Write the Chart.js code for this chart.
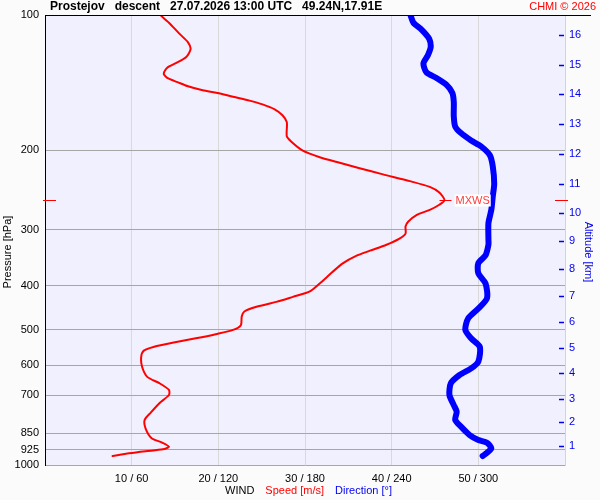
<!DOCTYPE html>
<html>
<head>
<meta charset="utf-8">
<title>Prostejov descent</title>
<script src="https://cdn.jsdelivr.net/npm/chart.js@4.4.1/dist/chart.umd.min.js"></script>
<style>
  body { margin: 0; background: #fbfbfb; }
  canvas { display: block; }
</style>
</head>
<body>
<canvas id="chart" width="600" height="500"></canvas>
<script>
// axis ticks
const pressureTicks = [100, 200, 300, 400, 500, 600, 700, 850, 925, 1000];
const altitudeKm = [1, 2, 3, 4, 5, 6, 7, 8, 9, 10, 11, 12, 13, 14, 15, 16];
const altitudePressure = [906, 803, 712, 626, 550, 480, 421, 367, 318, 275, 237, 204, 175, 150, 129, 111];
const speedTicks = [10, 20, 30, 40, 50];
const speedTickLabels = ["10 / 60", "20 / 120", "30 / 180", "40 / 240", "50 / 300"];

// wind speed profile [hPa] / [m/s]
const speedPressure = [100, 104, 110, 115, 119, 124, 128, 131, 135, 138,
  141, 144, 147, 149, 152, 155, 158, 162, 167, 173,
  186, 191, 200, 207, 213, 219, 226, 234, 241, 248,
  258, 264, 271, 278, 288, 295, 306, 314, 324, 334,
  343, 356, 372, 395, 412, 423, 434, 445, 456, 468,
  489, 501, 512, 523, 535, 546, 557, 575, 605, 637,
  658, 681, 699, 729, 765, 794, 829, 872, 890, 911,
  923, 932, 942, 955];
const speed = [13.3, 14.3, 15.5, 16.5, 16.8, 16.3, 15.1, 14.1, 13.7, 14.1,
  15.3, 16.5, 18.2, 19.9, 21.7, 23.6, 25.1, 26.5, 27.4, 27.9,
  27.9, 28.4, 29.7, 31.7, 34.0, 36.3, 39.0, 42.1, 44.4, 45.5,
  46.1, 45.5, 44.4, 42.9, 41.9, 41.6, 41.6, 40.9, 39.4, 37.5,
  35.9, 34.4, 33.2, 31.7, 30.5, 28.6, 26.7, 24.4, 23.0, 22.7,
  22.6, 21.7, 19.7, 17.4, 14.7, 12.6, 11.4, 11.1, 11.2, 11.8,
  13.2, 14.3, 14.3, 13.2, 12.2, 11.5, 11.6, 12.3, 13.4, 14.3,
  13.6, 11.6, 9.7, 7.8];

// wind direction profile [hPa] / [deg]
const dirPressure = [100, 104, 108, 113, 118, 123, 128, 134, 138, 143,
  149, 156, 168, 177, 183, 190, 196, 205, 217, 237,
  253, 271, 290, 316, 324, 342, 356, 375, 395, 426,
  449, 472, 501, 523, 546, 589, 610, 631, 658, 699,
  736, 761, 794, 822, 858, 880, 892, 918, 939, 955];
const direction = [253, 255, 261, 266, 267, 265, 262, 264, 271, 278,
  282, 283, 283, 284, 288, 295, 302, 308, 310, 311,
  310, 309, 307, 307, 307, 305, 300, 300, 305, 306,
  300, 293, 291, 295, 301, 300, 295, 287, 281, 280,
  283, 285, 284, 288, 294, 300, 306, 309, 306, 303];

const FONT = "'Liberation Sans', Arial, sans-serif";

const decor = {
  id: "decor",
  beforeDraw(chart) {
    const ctx = chart.ctx, a = chart.chartArea;
    ctx.save();
    ctx.fillStyle = "#fbfbfb";
    ctx.fillRect(0, 0, chart.width, chart.height);
    ctx.fillStyle = "#f0f0fe";
    ctx.fillRect(a.left, a.top, a.right - a.left, a.bottom - a.top);
    ctx.restore();
  },
  afterDraw(chart) {
    const ctx = chart.ctx, a = chart.chartArea;
    const y2 = chart.scales.y2, x = chart.scales.x, y = chart.scales.y;
    ctx.save();

    // top frame line
    ctx.strokeStyle = "#000";
    ctx.lineWidth = 1;
    ctx.beginPath();
    ctx.moveTo(a.left, a.top + 0.5);
    ctx.lineTo(591, a.top + 0.5);
    ctx.stroke();

    // altitude tick marks
    ctx.strokeStyle = "#0000ee";
    ctx.lineWidth = 1.5;
    altitudePressure.forEach(function (p) {
      const py = Math.round(y2.getPixelForValue(p)) + 0.5;
      ctx.beginPath();
      ctx.moveTo(a.right - 6, py);
      ctx.lineTo(a.right - 1, py);
      ctx.stroke();
    });

    // max wind marker
    let im = 0;
    speed.forEach(function (v, i) { if (v > speed[im]) im = i; });
    const mx = x.getPixelForValue(speed[im]);
    const my = Math.round(y.getPixelForValue(speedPressure[im])) + 0.5;
    ctx.strokeStyle = "#ff0000";
    ctx.lineWidth = 1;
    ctx.beginPath();
    ctx.moveTo(mx - 5, my); ctx.lineTo(mx + 7, my);
    ctx.moveTo(a.left - 2, my); ctx.lineTo(a.left + 11, my);
    ctx.moveTo(a.right - 10, my); ctx.lineTo(a.right + 3, my);
    ctx.stroke();
    ctx.font = "11px " + FONT;
    ctx.textBaseline = "middle";
    ctx.textAlign = "left";
    const w = ctx.measureText("MXWS").width;
    ctx.fillStyle = "#ffffff";
    ctx.fillRect(mx + 10, my - 6, w + 2, 12);
    ctx.fillStyle = "#ff3b3b";
    ctx.fillText("MXWS", mx + 11, my);

    // title
    ctx.fillStyle = "#000";
    ctx.font = "bold 12px " + FONT;
    ctx.textBaseline = "middle";
    ctx.fillText("Prostejov   descent   27.07.2026 13:00 UTC   49.24N,17.91E", 50, 7);
    ctx.fillStyle = "#ff0000";
    ctx.font = "11px " + FONT;
    ctx.textAlign = "right";
    ctx.fillText("CHMI \u00a9 2026", 596, 7);

    // bottom legend
    ctx.textAlign = "left";
    let tx = 225;
    [["WIND", "#000"], ["Speed [m/s]", "#ff0000"], ["Direction [\u00b0]", "#0000ee"]].forEach(function (t) {
      ctx.fillStyle = t[1];
      ctx.fillText(t[0], tx, 491);
      tx += ctx.measureText(t[0]).width + 11;
    });

    // axis titles
    ctx.textAlign = "center";
    ctx.fillStyle = "#000";
    ctx.save();
    ctx.translate(8, 252);
    ctx.rotate(-Math.PI / 2);
    ctx.fillText("Pressure [hPa]", 0, 0);
    ctx.restore();
    ctx.fillStyle = "#0000ee";
    ctx.save();
    ctx.translate(588, 252);
    ctx.rotate(Math.PI / 2);
    ctx.fillText("Altitude [km]", 0, 0);
    ctx.restore();

    ctx.restore();
  }
};

const ctx = document.getElementById("chart").getContext("2d");
const myChart = new Chart(ctx, {
  type: "scatter",
  data: {
    datasets: [
      {
        label: "Speed",
        data: speed.map(function (v, i) { return { x: v, y: speedPressure[i] }; }),
        xAxisID: "x",
        yAxisID: "y",
        showLine: true,
        tension: 0.25,
        borderColor: "#ff0000",
        borderWidth: 2,
        pointRadius: 0,
        borderJoinStyle: "round",
        borderCapStyle: "round",
      },
      {
        label: "Direction",
        data: direction.map(function (v, i) { return { x: v, y: dirPressure[i] }; }),
        xAxisID: "x2",
        yAxisID: "y",
        showLine: true,
        tension: 0.25,
        borderColor: "#0000ff",
        borderWidth: 6,
        pointRadius: 0,
        borderJoinStyle: "round",
        borderCapStyle: "round",
      },
    ],
  },
  options: {
    responsive: false,
    animation: false,
    layout: { padding: { top: 15, left: 0, right: 0, bottom: 0 } },
    plugins: { legend: { display: false }, tooltip: { enabled: false } },
    scales: {
      x: {
        type: "linear",
        position: "bottom",
        min: 0,
        max: 60,
        afterBuildTicks: function (s) { s.ticks = speedTicks.map(function (v) { return { value: v }; }); },
        afterFit: function (s) { s.height = 35; },
        grid: { color: "#d9d9d9", drawTicks: false },
        border: { display: false },
        ticks: {
          padding: 7,
          autoSkip: false,
          maxRotation: 0,
          color: "#000",
          font: { family: FONT, size: 11 },
          callback: function (v, i) { return speedTickLabels[i]; },
        },
      },
      x2: {
        type: "linear",
        display: false,
        min: 0,
        max: 360,
      },
      y: {
        type: "logarithmic",
        position: "left",
        reverse: true,
        min: 100,
        max: 1000,
        afterBuildTicks: function (s) { s.ticks = pressureTicks.map(function (v) { return { value: v }; }); },
        afterFit: function (s) { s.width = 45; },
        grid: { color: "#a6a6a6", drawTicks: false },
        border: { color: "#000", width: 1 },
        ticks: {
          padding: 6,
          autoSkip: false,
          color: "#000",
          font: { family: FONT, size: 11 },
          callback: function (v) { return String(v); },
        },
      },
      y2: {
        type: "logarithmic",
        position: "right",
        reverse: true,
        min: 100,
        max: 1000,
        afterBuildTicks: function (s) { s.ticks = altitudePressure.map(function (v) { return { value: v }; }); },
        afterFit: function (s) { s.width = 35; },
        grid: { display: false, drawTicks: false },
        border: { display: true, color: "#d4d4d4", width: 1 },
        ticks: {
          padding: 4,
          autoSkip: false,
          color: "#0000ee",
          font: { family: FONT, size: 11 },
          callback: function (v, i) { return String(altitudeKm[i]); },
        },
      },
    },
  },
  plugins: [decor],
});
</script>
</body>
</html>
